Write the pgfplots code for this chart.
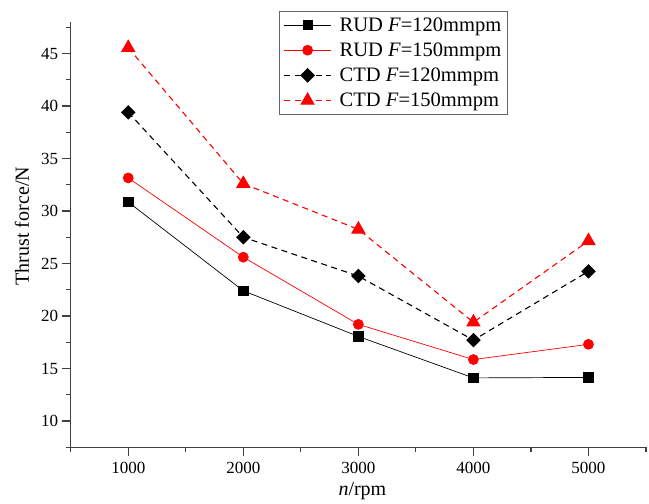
\documentclass[border=0pt]{standalone}
\usepackage{fontspec}
\setmainfont{Liberation Serif}
\usepackage{pgfplots}
\pgfplotsset{compat=1.18}

\pgfplotstableread{
n     rud120 rud150 ctd120 ctd150
1000  30.85  33.15  39.40  45.55
2000  22.40  25.60  27.50  32.60
3000  18.05  19.20  23.80  28.25
4000  14.10  15.85  17.70  19.40
5000  14.15  17.30  24.25  27.15
}\thrust

\begin{document}
\begin{tikzpicture}
\begin{axis}[
  name=ax,
  scale only axis,
  width=575pt, height=425pt,
  xmin=500, xmax=5500,
  ymin=7.5, ymax=48,
  xtick={1000,2000,3000,4000,5000},
  minor xtick={500,1500,2500,3500,4500,5500},
  ytick={10,15,...,45},
  minor ytick={7.5,12.5,...,47.5},
  axis lines=left,
  axis line style={-, line width=1.4pt, black!75},
  every tick/.style={line width=1.2pt, black!75},
  tick align=outside,
  major tick length=9pt,
  minor tick length=5pt,
  /pgf/number format/assume math mode=true,
  /pgf/number format/1000 sep={},
  ticklabel style={font=\fontsize{17}{18}\selectfont},
  xticklabel style={yshift=-2pt},
  xlabel={\textit{n}/rpm},
  ylabel={Thrust force/N},
  label style={font=\fontsize{20}{22}\selectfont},
  xlabel style={at={(axis description cs:0.507,-0.104)}, anchor=center},
  ylabel style={at={(axis description cs:-0.085,0.52)}, anchor=center},
  legend image code/.code={\draw[mark repeat=2,mark phase=2,#1] plot coordinates {(10pt,0pt) (33.5pt,0pt) (57pt,0pt)};},
  legend style={at={(axis description cs:0.362,1.026)}, anchor=north west,
    draw=black!60, line width=1.1pt, font=\fontsize{20.5}{22}\selectfont,
    row sep=6pt, inner xsep=4pt, inner ysep=4pt,
    /tikz/every odd column/.append style={column sep=6pt}},
  legend cell align=left,
  clip=false,
]
\addplot[black, line width=0.7pt, mark=square*, mark size=4.7pt,
  mark options={solid}] table[x=n, y=rud120] {\thrust};
\addlegendentry{RUD \textit{F}=120mmpm}
\addplot[red, line width=0.7pt, mark=*, mark size=5pt,
  mark options={solid}] table[x=n, y=rud150] {\thrust};
\addlegendentry{RUD \textit{F}=150mmpm}
\addplot[black, line width=1.1pt, dash pattern=on 6pt off 4.5pt, mark=square*, mark size=4.6pt,
  mark options={solid, rotate=45}] table[x=n, y=ctd120] {\thrust};
\addlegendentry{CTD \textit{F}=120mmpm}
\addplot[red, line width=1.1pt, dash pattern=on 6pt off 4.5pt, mark=triangle*, mark size=7.3pt,
  mark options={solid}] table[x=n, y=ctd150] {\thrust};
\addlegendentry{CTD \textit{F}=150mmpm}
\end{axis}
\pgfresetboundingbox
\path[use as bounding box] ([shift={(-70.7pt,-56.3pt)}]ax.south west) rectangle ([shift={(3pt,22pt)}]ax.north east);
\end{tikzpicture}
\end{document}
